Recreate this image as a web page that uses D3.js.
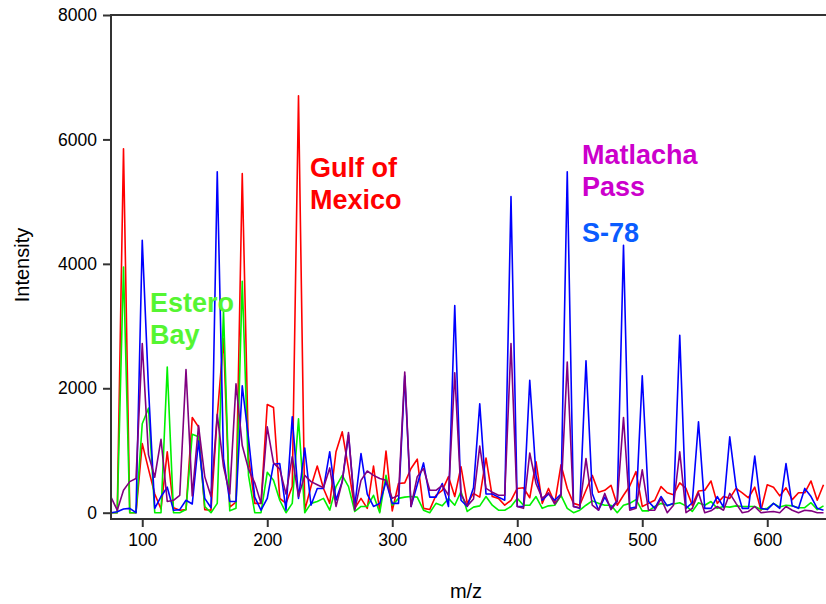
<!DOCTYPE html>
<html>
<head>
<meta charset="utf-8">
<script src="https://cdn.jsdelivr.net/npm/d3@7"></script>
<style>
  body { margin: 0; background: #fff; }
  svg { font-family: "Liberation Sans", Arial, sans-serif; }
  .tick text { font-size: 17.5px; fill: #000; }
  .label { font-weight: bold; font-size: 27px; }
</style>
</head>
<body>
<svg width="826" height="604"></svg>
<script>
// m/z runs 75..645 in steps of 5
var mzStart = 75, mzStep = 5;

var gulfOfMexico = [0,0,5850,0,0,1110,700,300,60,980,80,40,50,1530,1380,50,40,1550,2800,90,170,5450,900,150,150,1740,1690,230,150,420,6700,40,420,750,390,150,
  980,1300,710,70,230,70,750,20,990,30,470,480,710,860,70,50,280,360,580,260,740,150,310,250,880,260,230,120,200,390,400,240,820,150,390,150,770,390,150,120,
  360,600,330,360,440,120,280,430,660,100,150,200,420,320,290,480,390,120,350,360,510,150,260,230,390,320,240,410,40,450,410,270,400,210,320,320,510,200,450];

var esteroBay = [0,0,3950,0,0,1430,1680,0,0,2340,0,0,50,1260,1220,100,0,150,3250,30,70,3720,600,0,0,650,520,200,0,150,1510,0,150,180,230,40,
  420,600,420,20,100,100,280,0,600,120,230,250,260,250,40,0,150,110,230,120,340,20,90,110,260,120,40,40,100,230,120,120,260,70,110,120,280,70,0,40,
  120,190,150,120,120,0,120,150,210,30,30,100,150,120,140,160,110,20,160,120,180,70,100,90,110,100,100,100,50,70,150,90,120,110,80,80,160,50,110];

var s78 = [0,15,60,70,0,4380,2000,70,260,410,40,50,200,140,1150,230,80,5480,870,180,180,2040,1200,250,40,230,780,790,40,1540,230,1040,120,390,390,980,
  200,500,1250,100,950,300,100,150,500,150,150,2200,100,450,800,250,250,470,100,3330,200,100,400,1750,300,300,250,200,5080,100,100,2130,600,200,300,200,300,5480,100,70,
  2440,310,40,250,70,190,4300,70,90,2200,180,70,260,110,150,2850,70,160,1460,70,70,260,90,1220,420,70,70,910,70,50,150,70,790,110,70,390,260,70,40];

var matlachaPass = [250,40,360,500,550,2720,930,570,1180,180,200,280,2300,270,1400,580,260,1580,740,300,2070,1080,700,480,150,1380,800,700,300,900,260,600,500,450,400,720,
  100,500,1290,40,520,670,600,550,520,230,280,2260,100,580,710,360,360,440,280,2250,300,110,220,1070,390,330,280,280,2720,100,70,960,470,230,320,140,280,2420,100,80,
  870,120,40,310,50,180,1530,40,70,690,40,40,230,0,120,980,0,70,320,0,30,100,40,310,150,0,20,100,0,10,20,0,100,40,0,40,30,0,0];

var yTicks = [0, 2000, 4000, 6000, 8000];
var xTicks = [100, 200, 300, 400, 500, 600];

var series = [
  { name: "Gulf of Mexico", values: gulfOfMexico, color: "#ff0000" },
  { name: "Estero Bay", values: esteroBay, color: "#00f000" },
  { name: "S-78", values: s78, color: "#0000ff" },
  { name: "Matlacha Pass", values: matlachaPass, color: "#800080" }
];

var svg = d3.select("svg"),
    width = +svg.attr("width"),
    height = +svg.attr("height");

var plotLeft = 111, plotTop = 15, plotBottom = 519;

var x = d3.scaleLinear().domain([75, 647]).range([plotLeft, width]);
var y = d3.scaleLinear().domain([0, 8000]).range([512.7, plotTop]);

var line = d3.line()
    .x(function(d, i) { return x(mzStart + i * mzStep); })
    .y(function(d) { return y(d); });

svg.append("clipPath").attr("id", "plot")
  .append("rect")
    .attr("x", plotLeft).attr("y", plotTop)
    .attr("width", width - plotLeft).attr("height", plotBottom - plotTop);

var lines = svg.append("g").attr("clip-path", "url(#plot)");

lines.selectAll("path")
  .data(series)
  .enter().append("path")
    .attr("d", function(d) { return line(d.values); })
    .attr("fill", "none")
    .attr("stroke", function(d) { return d.color; })
    .attr("stroke-width", 1.6)
    .attr("stroke-linejoin", "round");

// axes
svg.append("g")
    .attr("transform", "translate(0," + plotBottom + ")")
    .call(d3.axisBottom(x).tickValues(xTicks).tickFormat(d3.format("d"))
      .tickSize(8).tickPadding(7).tickSizeOuter(0));

svg.append("g")
    .attr("transform", "translate(" + plotLeft + ",0)")
    .call(d3.axisLeft(y).tickValues(yTicks).tickFormat(d3.format("d"))
      .tickSize(8).tickPadding(6).tickSizeOuter(0));

svg.selectAll(".domain").remove();
svg.selectAll(".tick line").attr("stroke", "#333").attr("stroke-width", 2);

// frame: left, bottom and top
svg.append("line").attr("x1", plotLeft).attr("x2", plotLeft).attr("y1", plotTop - 1).attr("y2", plotBottom + 1)
    .attr("stroke", "#333").attr("stroke-width", 2);
svg.append("line").attr("x1", plotLeft - 1).attr("x2", width).attr("y1", plotBottom).attr("y2", plotBottom)
    .attr("stroke", "#333").attr("stroke-width", 2);
svg.append("line").attr("x1", plotLeft).attr("x2", width).attr("y1", plotTop).attr("y2", plotTop)
    .attr("stroke", "#333").attr("stroke-width", 2);

// axis titles
svg.append("text").text("m/z")
    .attr("x", 466).attr("y", 598)
    .attr("text-anchor", "middle")
    .style("font-size", "20px");

svg.append("text").text("Intensity")
    .attr("transform", "translate(29,265) rotate(-90)")
    .attr("text-anchor", "middle")
    .style("font-size", "20px");

// series labels
function addLabel(rows, xPos, yPos, color) {
  rows.forEach(function(t, i) {
    svg.append("text").text(t)
        .attr("class", "label")
        .attr("x", xPos).attr("y", yPos + i * 32)
        .attr("fill", color);
  });
}
addLabel(["Gulf of", "Mexico"], 310, 177, "#ff0000");
addLabel(["Matlacha", "Pass"], 582, 164, "#cc00cc");
addLabel(["S-78"], 582, 242, "#0a5cff");
addLabel(["Estero", "Bay"], 150, 312, "#55f532");
</script>
</body>
</html>
